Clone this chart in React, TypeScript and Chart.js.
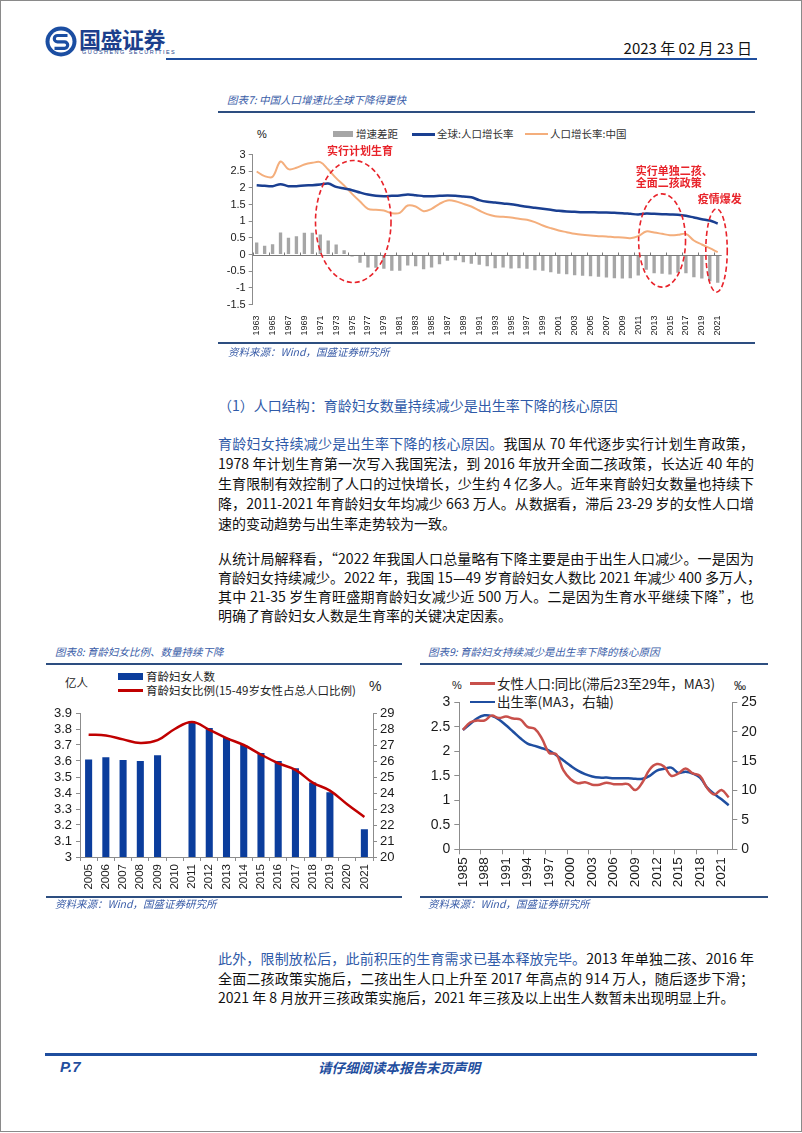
import React, { useEffect, useRef } from 'react';
import { Chart, registerables } from 'chart.js';

Chart.register(...registerables);

const SANS = "'Liberation Sans', 'Noto Sans CJK SC', sans-serif";
const CJK = "'Noto Sans CJK SC', 'Liberation Sans', sans-serif";
Chart.defaults.font.family = SANS;
Chart.defaults.color = '#1a1a1a';

// ---------------- Chart 7 data ----------------
const years7 = [
  '1963','1964','1965','1966','1967','1968','1969','1970','1971','1972',
  '1973','1974','1975','1976','1977','1978','1979','1980','1981','1982',
  '1983','1984','1985','1986','1987','1988','1989','1990','1991','1992',
  '1993','1994','1995','1996','1997','1998','1999','2000','2001','2002',
  '2003','2004','2005','2006','2007','2008','2009','2010','2011','2012',
  '2013','2014','2015','2016','2017','2018','2019','2020','2021',
];
const gap7 = [
  0.36, 0.26, 0.31, 0.66, 0.50, 0.55, 0.65, 0.65, 0.60, 0.42,
  0.30, 0.13, -0.06, -0.25, -0.39, -0.40, -0.43, -0.49, -0.49, -0.33,
  -0.35, -0.44, -0.39, -0.29, -0.19, -0.17, -0.23, -0.28, -0.31, -0.35,
  -0.41, -0.39, -0.42, -0.41, -0.43, -0.47, -0.49, -0.53, -0.58, -0.59,
  -0.62, -0.64, -0.65, -0.67, -0.69, -0.71, -0.72, -0.71, -0.63, -0.46,
  -0.56, -0.58, -0.60, -0.55, -0.56, -0.68, -0.72, -0.80, -0.85,
];
const global7 = [
  2.08, 2.06, 2.05, 2.11, 2.05, 2.05, 2.07, 2.08, 2.10, 2.13,
  2.03, 1.98, 1.93, 1.86, 1.80, 1.76, 1.75, 1.76, 1.77, 1.80,
  1.78, 1.75, 1.75, 1.76, 1.77, 1.76, 1.74, 1.72, 1.63, 1.58,
  1.56, 1.53, 1.51, 1.47, 1.43, 1.40, 1.37, 1.34, 1.31, 1.29,
  1.28, 1.27, 1.27, 1.26, 1.26, 1.25, 1.24, 1.22, 1.20, 1.23,
  1.22, 1.21, 1.20, 1.19, 1.16, 1.11, 1.06, 1.02, 0.93,
];
const china7 = [
  2.49, 2.35, 2.33, 2.79, 2.56, 2.60, 2.70, 2.75, 2.77, 2.55,
  2.29, 2.07, 1.82, 1.59, 1.37, 1.34, 1.32, 1.24, 1.25, 1.47,
  1.44, 1.30, 1.37, 1.52, 1.62, 1.60, 1.52, 1.44, 1.32, 1.21,
  1.15, 1.13, 1.11, 1.07, 1.04, 0.97, 0.87, 0.79, 0.72, 0.67,
  0.62, 0.59, 0.57, 0.55, 0.54, 0.52, 0.51, 0.49, 0.55, 0.69,
  0.66, 0.62, 0.58, 0.59, 0.62, 0.42, 0.30, 0.19, 0.07,
];
// annotation ellipses: centre year, centre value, half-width (years), half-height (%)
const notes7Ellipses = [
  { year: 1975.15, value: 0.99, halfYears: 4.75, halfValue: 1.83 },
  { year: 2014.0, value: 0.42, halfYears: 2.95, halfValue: 1.4 },
  { year: 2020.85, value: 0.12, halfYears: 1.35, halfValue: 1.25 },
];
const notes7Texts = [
  { text: '实行计划生育', year: 1976, value: 3.1, align: 'center' },
  { text: '实行单独二孩、', year: 2010.7, value: 2.52, align: 'left' },
  { text: '全面二孩政策', year: 2010.7, value: 2.15, align: 'left' },
  { text: '疫情爆发', year: 2018.5, value: 1.67, align: 'left' },
];

// ---------------- Chart 8 data ----------------
const years8 = ['2005','2006','2007','2008','2009','2010','2011','2012','2013','2014','2015','2016','2017','2018','2019','2020','2021'];
const women8 = [3.61, 3.624, 3.607, 3.60, 3.636, null, 3.84, 3.806, 3.743, 3.70, 3.65, 3.60, 3.555, 3.465, 3.404, null, 3.174];
const ratio8 = [27.64, 27.6, 27.35, 27.12, 27.3, 28.0, 28.44, 27.95, 27.43, 27.0, 26.4, 25.86, 25.45, 24.65, 24.15, 23.3, 22.5];

// ---------------- Chart 9 data ----------------
const years9 = [
  '1985','1986','1987','1988','1989','1990','1991','1992','1993','1994',
  '1995','1996','1997','1998','1999','2000','2001','2002','2003','2004',
  '2005','2006','2007','2008','2009','2010','2011','2012','2013','2014',
  '2015','2016','2017','2018','2019','2020','2021','2022',
];
const female9 = [
  2.44, 2.59, 2.63, 2.63, 2.73, 2.68, 2.71, 2.67, 2.65, 2.50,
  2.46, 2.26, 1.97, 1.94, 1.61, 1.43, 1.35, 1.37, 1.32, 1.32,
  1.36, 1.33, 1.33, 1.33, 1.21, 1.37, 1.63, 1.74, 1.69, 1.50,
  1.55, 1.65, 1.55, 1.50, 1.25, 1.12, 1.21, 1.06,
];
const birth9 = [
  20.3, 21.3, 22.3, 22.8, 22.7, 22.1, 21.1, 20.0, 18.9, 18.0,
  17.6, 17.2, 16.8, 16.0, 15.1, 14.2, 13.4, 12.8, 12.4, 12.2,
  12.2, 12.1, 12.1, 12.1, 12.0, 12.0, 12.5, 13.4, 13.7, 13.9,
  13.0, 13.2, 12.9, 12.2, 10.5, 9.4, 8.5, 7.5,
];

const AXIS = '#8c8c8c';
const NAVY = '#1F4E9E';
const CAPTION = '#3A5DA8';
const RED = '#E8232A';

const fmt = (v: any) => String(Math.round(Number(v) * 10) / 10);

const zeroLine7 = {
  id: 'zeroLine7',
  afterDatasetsDraw(chart: any) {
    const { ctx, chartArea, scales } = chart;
    const y0 = Math.round(scales.y.getPixelForValue(0)) + 0.5;
    const half = (scales.x.getPixelForValue(1) - scales.x.getPixelForValue(0)) / 2;
    ctx.save();
    ctx.strokeStyle = '#7a7a7a';
    ctx.lineWidth = 1;
    ctx.beginPath();
    ctx.moveTo(chartArea.left, y0);
    ctx.lineTo(chartArea.right, y0);
    const n = chart.data.labels.length;
    for (let i = 0; i <= n; i += 2) {
      const x = Math.round(scales.x.getPixelForValue(i) - half) + 0.5;
      ctx.moveTo(x, y0);
      ctx.lineTo(x, y0 - 3);
    }
    ctx.stroke();
    ctx.restore();
  },
};

const notes7 = {
  id: 'notes7',
  afterDraw(chart: any) {
    const { ctx, scales } = chart;
    const xs = scales.x;
    const ys = scales.y;
    const step = xs.getPixelForValue(1) - xs.getPixelForValue(0);
    const idx = (year: number) => xs.getPixelForValue(0) + (year - 1963) * step;
    ctx.save();
    ctx.strokeStyle = RED;
    ctx.lineWidth = 1.6;
    ctx.setLineDash([5, 3]);
    notes7Ellipses.forEach((e) => {
      const cx = idx(e.year);
      const cy = ys.getPixelForValue(e.value);
      const rx = e.halfYears * step;
      const ry = ys.getPixelForValue(e.value - e.halfValue) - cy;
      ctx.beginPath();
      ctx.ellipse(cx, cy, rx, ry, 0, 0, Math.PI * 2);
      ctx.stroke();
    });
    ctx.setLineDash([]);
    ctx.fillStyle = RED;
    ctx.font = `bold 11px ${CJK}`;
    ctx.textBaseline = 'middle';
    notes7Texts.forEach((t) => {
      ctx.textAlign = t.align;
      ctx.fillText(t.text, idx(t.year), ys.getPixelForValue(t.value));
    });
    ctx.restore();
  },
};

function makeChart7(): any {
  return {
    type: 'bar',
    data: {
      labels: years7,
      datasets: [
        { type: 'line', label: '全球:人口增长率', data: global7, borderColor: '#1A3F91', borderWidth: 2.5, pointRadius: 0, tension: 0.35, order: 1 },
        { type: 'line', label: '人口增长率:中国', data: china7, borderColor: '#F4AE7C', borderWidth: 2, pointRadius: 0, tension: 0.35, order: 2 },
        { type: 'bar', label: '增速差距', data: gap7, backgroundColor: '#A6A6A6', barPercentage: 0.42, categoryPercentage: 1, order: 3 },
      ],
    },
    options: {
      responsive: false,
      animation: false,
      devicePixelRatio: 1,
      layout: { padding: { top: 36.5, right: 38.3, left: 0, bottom: 0 } },
      plugins: { legend: { display: false }, tooltip: { enabled: false } },
      scales: {
        x: {
          offset: true,
          grid: { display: false },
          border: { display: false },
          ticks: {
            autoSkip: false, maxRotation: 90, minRotation: 90, padding: 3,
            font: { size: 9 }, color: '#1a1a1a',
            callback: (_v: any, i: number) => (i % 2 === 0 ? years7[i] : ''),
          },
          afterFit: (s: any) => { s.height = 39.5; },
        },
        y: {
          min: -1.5, max: 3,
          ticks: { stepSize: 0.5, autoSkip: false, font: { size: 11 }, color: '#1a1a1a', padding: 3, callback: fmt },
          grid: { drawOnChartArea: false, drawTicks: true, tickLength: 4, color: AXIS },
          border: { color: AXIS },
          afterFit: (s: any) => { s.width = 34.7; },
        },
      },
    },
    plugins: [zeroLine7, notes7],
  };
}

function makeChart8(): any {
  return {
    type: 'bar',
    data: {
      labels: years8,
      datasets: [
        { type: 'line', label: '育龄妇女比例(15-49岁女性占总人口比例)', data: ratio8, yAxisID: 'y1', borderColor: '#C00000', borderWidth: 2.5, pointRadius: 0, tension: 0.4, order: 1 },
        { type: 'bar', label: '育龄妇女人数', data: women8, yAxisID: 'y', backgroundColor: '#0B3D9C', barPercentage: 0.41, categoryPercentage: 1, order: 2 },
      ],
    },
    options: {
      responsive: false,
      animation: false,
      devicePixelRatio: 1,
      layout: { padding: { top: 13, right: 0, left: 0, bottom: 0 } },
      plugins: { legend: { display: false }, tooltip: { enabled: false } },
      scales: {
        x: {
          grid: { display: true, drawOnChartArea: false, drawTicks: true, tickLength: 4, color: AXIS, offset: true },
          border: { color: AXIS },
          ticks: { autoSkip: false, maxRotation: 90, minRotation: 90, padding: 3, font: { size: 11.5 }, color: '#1a1a1a' },
          afterFit: (s: any) => { s.height = 41; },
        },
        y: {
          position: 'left', min: 3, max: 3.9,
          ticks: { stepSize: 0.1, autoSkip: false, font: { size: 13 }, color: '#1a1a1a', padding: 4, callback: fmt },
          grid: { drawOnChartArea: false, tickLength: 4, color: AXIS },
          border: { color: AXIS },
          afterFit: (s: any) => { s.width = 34; },
        },
        y1: {
          position: 'right', min: 20, max: 29,
          ticks: { stepSize: 1, autoSkip: false, font: { size: 13 }, color: '#1a1a1a', padding: 3, callback: fmt },
          grid: { drawOnChartArea: false, tickLength: 4, color: AXIS },
          border: { color: AXIS },
          afterFit: (s: any) => { s.width = 29; },
        },
      },
    },
  };
}

function makeChart9(): any {
  return {
    type: 'line',
    data: {
      labels: years9,
      datasets: [
        { label: '女性人口:同比(滞后23至29年，MA3)', data: female9, yAxisID: 'y', borderColor: '#C8504B', borderWidth: 2.5, pointRadius: 0, tension: 0.4 },
        { label: '出生率(MA3，右轴)', data: birth9, yAxisID: 'y1', borderColor: '#1F4EA0', borderWidth: 2.5, pointRadius: 0, tension: 0.4 },
      ],
    },
    options: {
      responsive: false,
      animation: false,
      devicePixelRatio: 1,
      layout: { padding: { top: 12.3, right: 0, left: 0, bottom: 0 } },
      plugins: { legend: { display: false }, tooltip: { enabled: false } },
      scales: {
        x: {
          offset: true,
          grid: {
            display: true, offset: true, drawOnChartArea: false, drawTicks: true, tickLength: 5, color: AXIS,
            tickColor: (c: any) => (c.index % 3 === 0 ? AXIS : 'rgba(0,0,0,0)'),
          },
          border: { color: AXIS },
          ticks: {
            autoSkip: false, maxRotation: 90, minRotation: 90, padding: 3, font: { size: 13.5 }, color: '#1a1a1a',
            callback: (_v: any, i: number) => (i % 3 === 0 ? years9[i] : ''),
          },
          afterFit: (s: any) => { s.height = 45.7; },
        },
        y: {
          position: 'left', min: 0, max: 3,
          ticks: { stepSize: 0.5, autoSkip: false, font: { size: 14 }, color: '#1a1a1a', padding: 4, callback: fmt },
          grid: { drawOnChartArea: false, tickLength: 5, color: AXIS },
          border: { color: AXIS },
          afterFit: (s: any) => { s.width = 39.3; },
        },
        y1: {
          position: 'right', min: 0, max: 25,
          ticks: { stepSize: 5, autoSkip: false, font: { size: 14 }, color: '#1a1a1a', padding: 4, callback: fmt },
          grid: { drawOnChartArea: false, tickLength: 5, color: AXIS },
          border: { color: AXIS },
          afterFit: (s: any) => { s.width = 37.7; },
        },
      },
    },
  };
}

function ChartCanvas({ make, left, top, width, height }: any) {
  const ref = useRef<HTMLCanvasElement | null>(null);
  useEffect(() => {
    const chart = new Chart(ref.current as HTMLCanvasElement, make());
    return () => chart.destroy();
  }, []);
  return (
    <canvas ref={ref} width={width} height={height}
      style={{ position: 'absolute', left, top, width, height }} />
  );
}

function T({ x, y, size, color = '#111', children, style = {}, family = CJK }: any) {
  return (
    <div style={{
      position: 'absolute', left: x, top: y - size * 0.75, fontSize: size, lineHeight: `${size * 1.5}px`,
      color, whiteSpace: 'nowrap', fontFamily: family, ...style,
    }}>{children}</div>
  );
}

function Rule({ x, y, w, h = 2, color = '#2D4E80' }: any) {
  return <div style={{ position: 'absolute', left: x, top: y, width: w, height: h, background: color }} />;
}

function Para({ y, children, last = false }: any) {
  return (
    <div style={{
      position: 'absolute', left: 218, top: y - 10, width: 536, height: 20, lineHeight: '20px',
      fontSize: 14, fontFamily: CJK, color: '#111', whiteSpace: 'nowrap',
      textAlign: last ? 'left' : 'justify', textAlignLast: last ? 'left' : 'justify',
    } as any}>{children}</div>
  );
}

const B = ({ children }: any) => <span style={{ color: '#2F5AA8' }}>{children}</span>;

export default function App() {
  return (
    <div style={{ position: 'absolute', left: 0, top: 0, width: 802, height: 1133, background: '#fff', overflow: 'hidden', fontFamily: CJK }}>
      <div style={{ position: 'absolute', left: 0, top: 0, width: 802, height: 1132, border: '1px solid #8a8a8a', boxSizing: 'border-box' }} />

      {/* header */}
      <svg style={{ position: 'absolute', left: 45, top: 26 }} width={32} height={31} viewBox="0 0 32 31">
        <ellipse cx="16" cy="15.5" rx="15.5" ry="15" fill="#1B4EA2" />
        <ellipse cx="16" cy="15.5" rx="11.5" ry="11" fill="#fff" />
        <path d="M22.5 9.5 H12.5 a3.2 3.2 0 0 0 0 6.4 h7 a3.2 3.2 0 0 1 0 6.4 H9.5" stroke="#1B4EA2" strokeWidth="3.2" fill="none" />
      </svg>
      <T x={79} y={38} size={22} color="#1C3F8C" style={{ fontWeight: 700, letterSpacing: -0.5 }}>国盛证券</T>
      <T x={82} y={52.5} size={5.5} color="#1C3F8C" family={SANS} style={{ letterSpacing: 1.45 }}>GUOSHENG SECURITIES</T>
      <div style={{ position: 'absolute', right: 50, top: 37, fontSize: 15, lineHeight: '22px', color: '#111', fontFamily: CJK, whiteSpace: 'nowrap' }}>2023 年 02 月 23 日</div>
      <Rule x={166} y={58} w={591} h={2} color={NAVY} />

      {/* chart 7 */}
      <T x={227} y={100} size={10.5} color={CAPTION} style={{ fontStyle: 'italic' }}>图表7:  中国人口增速比全球下降得更快</T>
      <Rule x={218} y={111} w={537} h={2} />
      <T x={257} y={134} size={11} family={SANS}>%</T>
      <div style={{ position: 'absolute', left: 333, top: 131, width: 20, height: 6, background: '#A6A6A6' }} />
      <T x={356} y={134} size={10.5} color="#333">增速差距</T>
      <div style={{ position: 'absolute', left: 412, top: 133, width: 23, height: 2.5, background: '#1A3F91' }} />
      <T x={437} y={134} size={10.5} color="#333">全球:人口增长率</T>
      <div style={{ position: 'absolute', left: 525, top: 133, width: 23, height: 2, background: '#F4AE7C' }} />
      <T x={550} y={134} size={10.5} color="#333">人口增长率:中国</T>
      <ChartCanvas make={makeChart7} left={218} top={118} width={542} height={226} />
      <Rule x={218} y={342} w={537} h={2} />
      <T x={228} y={352} size={10.5} color={CAPTION} style={{ fontStyle: 'italic' }}>资料来源：Wind，国盛证券研究所</T>

      {/* text */}
      <T x={218} y={405} size={14} color="#2F5AA8">（1）人口结构：育龄妇女数量持续减少是出生率下降的核心原因</T>
      <Para y={443}><B>育龄妇女持续减少是出生率下降的核心原因。</B>我国从 70 年代逐步实行计划生育政策，</Para>
      <Para y={463}>1978 年计划生育第一次写入我国宪法，到 2016 年放开全面二孩政策，长达近 40 年的</Para>
      <Para y={483}>生育限制有效控制了人口的过快增长，少生约 4 亿多人。近年来育龄妇女数量也持续下</Para>
      <Para y={503}>降，2011-2021 年育龄妇女年均减少 663 万人。从数据看，滞后 23-29 岁的女性人口增</Para>
      <Para y={523} last>速的变动趋势与出生率走势较为一致。</Para>

      <Para y={558}>从统计局解释看，“2022 年我国人口总量略有下降主要是由于出生人口减少。一是因为</Para>
      <Para y={577}>育龄妇女持续减少。2022 年，我国 15—49 岁育龄妇女人数比 2021 年减少 400 多万人，</Para>
      <Para y={596}>其中 21-35 岁生育旺盛期育龄妇女减少近 500 万人。二是因为生育水平继续下降”，也</Para>
      <Para y={615} last>明确了育龄妇女人数是生育率的关键决定因素。</Para>

      {/* chart 8 */}
      <T x={55} y={652} size={10.5} color={CAPTION} style={{ fontStyle: 'italic' }}>图表8:  育龄妇女比例、数量持续下降</T>
      <Rule x={46} y={663} w={356} h={2} />
      <T x={65} y={683} size={11.5} color="#222">亿人</T>
      <div style={{ position: 'absolute', left: 118, top: 673, width: 25, height: 7, background: '#0B3D9C' }} />
      <T x={146} y={677} size={11.5} color="#222">育龄妇女人数</T>
      <div style={{ position: 'absolute', left: 118, top: 689, width: 25, height: 2.5, background: '#C00000' }} />
      <T x={146} y={691} size={11.5} color="#222">育龄妇女比例(15-49岁女性占总人口比例)</T>
      <T x={369} y={686} size={14} family={SANS} color="#222">%</T>
      <ChartCanvas make={makeChart8} left={46} top={700} width={356} height={198} />
      <Rule x={46} y={896} w={356} h={2} />
      <T x={55} y={904} size={10.5} color={CAPTION} style={{ fontStyle: 'italic' }}>资料来源：Wind，国盛证券研究所</T>

      {/* chart 9 */}
      <T x={428} y={652} size={10.5} color={CAPTION} style={{ fontStyle: 'italic' }}>图表9:  育龄妇女持续减少是出生率下降的核心原因</T>
      <Rule x={420} y={663} w={348} h={2} />
      <T x={452} y={685} size={11} family={SANS} color="#222">%</T>
      <div style={{ position: 'absolute', left: 470, top: 682, width: 25, height: 3, background: '#C8504B' }} />
      <T x={497} y={683} size={13.5} color="#222">女性人口:同比(滞后23至29年，MA3)</T>
      <div style={{ position: 'absolute', left: 470, top: 700.5, width: 25, height: 2.5, background: '#1F4EA0' }} />
      <T x={497} y={701.5} size={13.5} color="#222">出生率(MA3，右轴)</T>
      <T x={734} y={686} size={12} family={SANS} color="#222">‰</T>
      <ChartCanvas make={makeChart9} left={420} top={690} width={350} height={205} />
      <Rule x={420} y={896} w={348} h={2} />
      <T x={428} y={904} size={10.5} color={CAPTION} style={{ fontStyle: 'italic' }}>资料来源：Wind，国盛证券研究所</T>

      {/* para 3 */}
      <Para y={958}><B>此外，限制放松后，此前积压的生育需求已基本释放完毕。</B>2013 年单独二孩、2016 年</Para>
      <Para y={978}>全面二孩政策实施后，二孩出生人口上升至 2017 年高点的 914 万人，随后逐步下滑；</Para>
      <Para y={997} last>2021 年 8 月放开三孩政策实施后，2021 年三孩及以上出生人数暂未出现明显上升。</Para>

      {/* footer */}
      <Rule x={45} y={1053} w={712} h={2.5} color={NAVY} />
      <T x={60} y={1067} size={15} color={NAVY} family={SANS} style={{ fontWeight: 700, fontStyle: 'italic' }}>P.7</T>
      <div style={{ position: 'absolute', left: 199, width: 400, top: 1057, lineHeight: '20px', fontSize: 13.5, textAlign: 'center', color: NAVY, fontWeight: 700, fontStyle: 'italic', fontFamily: CJK }}>请仔细阅读本报告末页声明</div>
    </div>
  );
}
